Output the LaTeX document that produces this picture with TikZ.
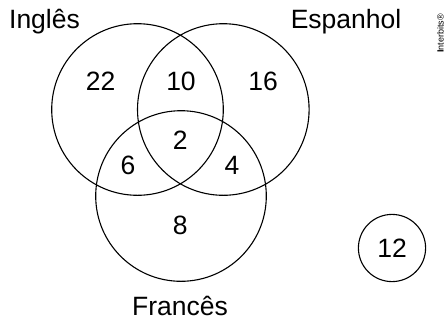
\documentclass[tikz,border=0pt]{standalone}
\usepackage{fontspec}
\setmainfont{Liberation Sans}
\tikzset{
    rotulo/.style={font=\fontsize{26.5}{30}\selectfont},
    conjunto/.style={draw, line width=1.1pt},
}
\begin{document}
\begin{tikzpicture}[x=1pt, y=-1pt]
                \useasboundingbox (0, 0) rectangle (446, 322);
                \draw[conjunto] (137.5, 109.5) circle (85.8);
                \draw[conjunto] (223.3, 109.5) circle (85.8);
                \draw[conjunto] (181, 196) circle (85.3);
                \draw[conjunto] (392, 248) circle (33.6);
                \node[rotulo] (ingles) at (44.5, 22) {Inglês};
                \node[rotulo] (espanhol) at (346, 22) {Espanhol};
                \node[rotulo] (frances) at (180, 306) {Francês};
                \node[rotulo] (soI) at (100.7, 81.7) {22};
                \node[rotulo] (IE) at (181, 81.7) {10};
                \node[rotulo] (soE) at (263, 81.7) {16};
                \node[rotulo] (IEF) at (180.3, 140) {2};
                \node[rotulo] (IF) at (128, 165.7) {6};
                \node[rotulo] (EF) at (232, 165.7) {4};
                \node[rotulo] (soF) at (180.3, 225.7) {8};
                \node[rotulo] (nenhum) at (392, 248) {12};
                \node[rotate=90, font=\fontsize{9}{10}\selectfont] (marca) at (440.5, 33.5) {\textbf{I}nterbits®};
            \end{tikzpicture}
\end{document}
